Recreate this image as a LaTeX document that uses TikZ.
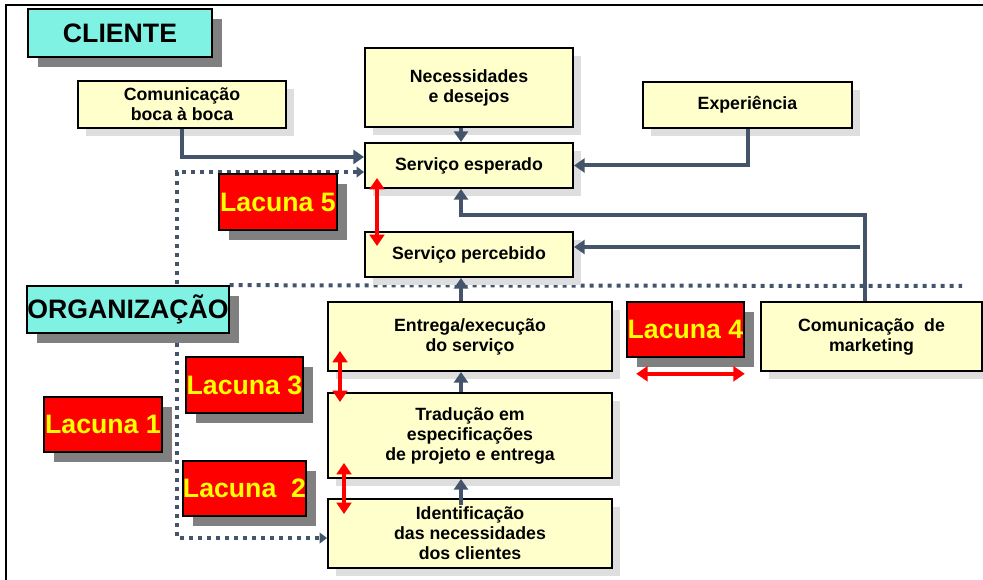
\documentclass[tikz,border=0pt]{standalone}
\usepackage{fontspec}
\setmainfont{Liberation Sans}
\usetikzlibrary{arrows.meta,shadows,calc}
\pgfdeclarelayer{background}
\pgfsetlayers{background,main}
\definecolor{creamfill}{RGB}{255,255,204}
\definecolor{cyanbox}{RGB}{127,242,228}
\definecolor{slate}{RGB}{68,84,106}
\definecolor{shlight}{RGB}{222,222,222}
\definecolor{shdark}{RGB}{128,128,128}
\definecolor{lacred}{RGB}{255,0,0}
\definecolor{lacyel}{RGB}{255,255,0}
\begin{document}
\begin{tikzpicture}[x=0.75pt,y=-0.75pt,
  creambox/.style={draw=black, line width=1.5pt, fill=creamfill, inner sep=0pt, align=center,
    font=\bfseries\fontsize{13.3}{15}\selectfont,
    drop shadow={shadow xshift=6pt, shadow yshift=-6pt, fill=shlight, opacity=1}},
  lacuna/.style={draw=black, line width=1.2pt, fill=lacred, text=lacyel, inner sep=0pt,
    font=\bfseries\fontsize{20}{24}\selectfont,
    drop shadow={shadow xshift=7.5pt, shadow yshift=-7.5pt, fill=shdark, opacity=1}},
  titlebox/.style={draw=black, line width=1.2pt, fill=cyanbox, text=black, inner sep=0pt,
    font=\bfseries\fontsize{20}{24}\selectfont,
    drop shadow={shadow xshift=7.5pt, shadow yshift=-7.5pt, fill=shdark, opacity=1}},
  conn/.style={draw=slate, line width=3pt, -{Triangle[width=10.5pt,length=8pt]}},
  dotconn/.style={draw=slate, line width=3pt, dash pattern=on 3pt off 3.75pt},
  redarr/.style={draw=lacred, line width=3pt,
    {Triangle[width=11pt,length=8.5pt]}-{Triangle[width=11pt,length=8.5pt]}}
]
\useasboundingbox (0,0) rectangle (983,580);

% nodes
\node[titlebox, minimum width=138pt, minimum height=36pt] (cli) at (120,33) {CLIENTE};
\node[creambox, minimum width=156pt, minimum height=35.25pt] (bb) at (182,104.5) {Comunicação\\boca à boca};
\node[creambox, minimum width=156pt, minimum height=59.25pt] (nec) at (469,87.5) {Necessidades\\e desejos};
\node[creambox, minimum width=156pt, minimum height=33.75pt] (esp) at (469,165.5) {Serviço esperado};
\node[creambox, minimum width=156.75pt, minimum height=34.5pt] (exp) at (747.5,105) {Experiência};
\node[creambox, minimum width=156pt, minimum height=33.75pt] (perc) at (469,254.5) {Serviço percebido};
\node[lacuna, minimum width=88.5pt, minimum height=42pt] (l5) at (278,202) {Lacuna 5};
\node[titlebox, minimum width=150pt, minimum height=35.25pt] (org) at (128,309.5) {ORGANIZAÇÃO};
\node[lacuna, minimum width=88.5pt, minimum height=41.25pt] (l1) at (103,424.5) {Lacuna 1};
\node[lacuna, minimum width=87.75pt, minimum height=42pt] (l3) at (244.5,385) {Lacuna 3};
\node[lacuna, minimum width=87.75pt, minimum height=41.25pt] (l2) at (244.5,488.5) {Lacuna\ \ 2};
\node[creambox, minimum width=213pt, minimum height=51.75pt] (ent) at (470,336.5) {Entrega/execução\\do serviço};
\node[creambox, minimum width=213pt, minimum height=63.75pt] (tra) at (470,435.5) {Tradução em\\especificações\\de projeto e entrega};
\node[creambox, minimum width=213pt, minimum height=51.75pt] (idn) at (470,533.5) {Identificação\\das necessidades\\dos clientes};
\node[lacuna, minimum width=87.75pt, minimum height=41.25pt] (l4) at (685.5,329.5) {Lacuna 4};
\node[creambox, minimum width=165.75pt, minimum height=51.75pt] (mkt) at (871.5,336.5) {Comunicação\ \ de\\marketing};

\coordinate (sp) at (461,0);
\coordinate (mk) at (865,215);
\coordinate (m2) at (860,247);
\coordinate (dl) at (177,300);
\coordinate (dr) at (962,286);

% background: frame and dotted lines
\begin{pgfonlayer}{background}
  \draw[line width=1.5pt] (6,580) -- (6,5) -- (983,5);
  \draw[dotconn] (org.north east) -- (dr);
  \draw[dotconn, {Triangle[width=8pt,length=5.5pt]}-{Triangle[width=8pt,length=5.5pt]}]
    ([yshift=-4.9pt]esp.west) -| (dl) |- ([yshift=-3.4pt]idn.west);
\end{pgfonlayer}

% connectors
\draw[conn] (bb.south) |- ([yshift=6.4pt]esp.west);
\draw[conn] (nec.south -| sp) -- (esp.north -| sp);
\draw[conn] (exp.south) |- (esp.east);
\draw[conn] (mkt.north -| mk) -- (mk) -| (esp.south -| sp);
\draw[conn] (m2) -- (m2 -| perc.east);
\draw[conn] (ent.north -| sp) -- (perc.south -| sp);
\draw[conn] (tra.north -| sp) -- (ent.south -| sp);
\draw[conn, shorten <=-5pt] (idn.north -| sp) -- (tra.south -| sp);

% red gap arrows
\draw[redarr] ([xshift=9.75pt,yshift=8.25pt]esp.south west) -- ([xshift=9.75pt,yshift=-11.25pt]perc.north west);
\draw[redarr] ([xshift=9.75pt,yshift=15.75pt]ent.south west) -- ([xshift=9.75pt,yshift=-7.5pt]tra.north west);
\draw[redarr] ([xshift=12.75pt,yshift=12pt]tra.south west) -- ([xshift=12.75pt,yshift=-12pt]idn.north west);
\draw[redarr] ([xshift=7.5pt,yshift=-12pt]l4.south west) -- ([yshift=-12pt]l4.south east);
\end{tikzpicture}
\end{document}
